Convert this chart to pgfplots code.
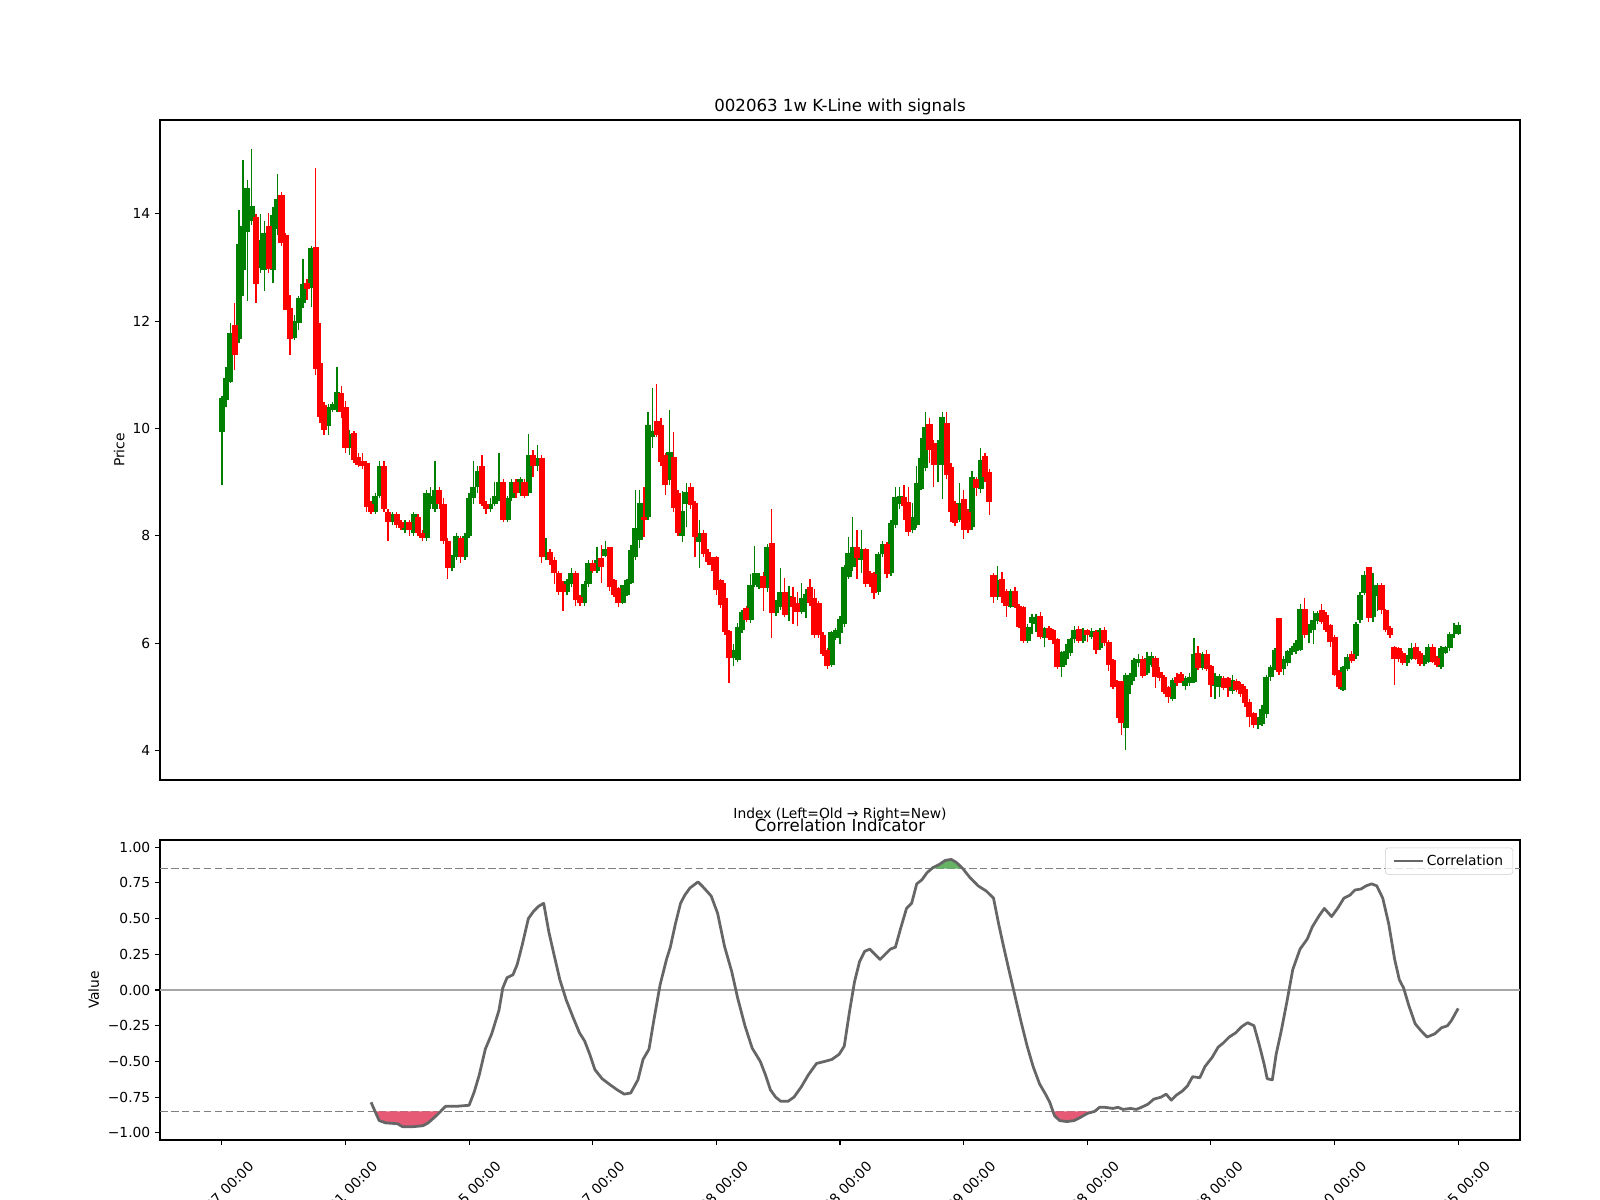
\documentclass[border=0pt]{standalone}
\usepackage{fontspec}
\setmainfont{DejaVu Sans}
\usepackage{pgfplots}
\usepackage{pgfplotstable}
\pgfplotsset{compat=1.18}

\definecolor{upc}{HTML}{008000}
\definecolor{dnc}{HTML}{FF0000}
\definecolor{corrc}{HTML}{666666}
\definecolor{negfill}{HTML}{E65A76}
\definecolor{posfill}{HTML}{66B366}

\pgfplotstableread{
i o h l c
0 9.94 10.60 8.95 10.57
1 10.53 11.15 10.40 10.94
2 10.87 11.97 10.85 11.78
4 11.67 14.08 11.60 13.43
5 12.96 15.00 12.47 13.78
6 13.67 14.64 12.38 14.49
7 13.86 15.20 13.80 14.14
9 13.00 13.99 12.90 13.52
10 12.96 13.87 12.57 13.65
12 12.96 14.12 12.72 13.97
13 13.71 14.75 13.60 14.27
17 11.69 12.12 11.65 12.00
18 11.97 12.47 11.84 12.44
19 12.33 13.15 12.25 12.70
21 12.62 13.40 12.27 13.37
25 10.05 10.45 9.88 10.40
26 10.35 10.50 10.30 10.45
27 10.35 11.15 10.30 10.68
30 9.64 9.97 9.51 9.90
36 8.45 8.80 8.40 8.75
37 8.75 9.40 8.70 9.30
40 8.25 8.45 8.20 8.40
43 8.10 8.30 8.05 8.25
45 8.05 8.45 8.00 8.40
48 7.95 8.85 7.90 8.80
49 8.60 8.90 8.50 8.75
50 8.50 9.40 8.45 8.85
54 7.40 7.65 7.35 7.60
55 7.60 8.05 7.55 8.00
57 7.60 8.05 7.55 8.00
58 8.00 8.80 7.95 8.70
59 8.70 9.40 8.60 8.90
60 8.90 9.30 8.80 9.20
63 8.50 8.70 8.45 8.60
64 8.60 9.00 8.55 8.75
65 8.70 9.55 8.65 9.00
67 8.30 8.75 8.25 8.70
68 8.70 9.05 8.65 9.00
70 8.80 9.10 8.75 9.05
72 8.80 9.90 8.75 9.50
74 9.30 9.70 9.20 9.45
76 7.60 7.95 7.55 7.70
81 6.95 7.20 6.90 7.15
82 7.10 7.40 7.05 7.30
85 6.75 7.15 6.70 7.10
86 7.10 7.55 7.05 7.50
88 7.35 7.80 7.30 7.55
90 7.62 7.91 7.60 7.75
94 6.74 7.09 6.72 7.08
95 6.90 7.20 6.88 7.17
96 7.12 7.83 7.10 7.73
97 7.60 8.85 7.55 8.14
98 7.92 8.85 7.77 8.61
100 8.35 10.30 8.30 10.07
101 9.85 10.76 9.64 9.95
105 9.04 10.35 8.95 9.56
108 8.00 8.83 7.88 8.46
109 8.60 8.98 8.16 8.82
112 7.88 8.30 7.40 8.05
120 5.72 5.98 5.57 5.87
121 5.68 6.37 5.65 6.30
122 6.24 6.62 6.18 6.58
124 6.43 7.28 6.37 7.08
125 7.08 7.81 7.05 7.30
126 7.05 7.30 7.00 7.25
128 7.02 7.85 6.95 7.79
130 6.56 6.80 6.50 6.70
131 6.67 7.40 6.62 6.95
133 6.67 7.07 6.41 6.87
136 6.58 7.12 6.55 6.84
137 6.76 7.00 6.47 6.91
143 5.60 6.22 5.55 6.20
144 6.10 6.28 6.05 6.24
145 6.18 6.50 5.98 6.44
146 6.35 7.45 6.30 7.41
147 7.23 7.98 7.20 7.68
148 7.42 8.35 7.35 7.79
150 7.55 8.10 7.30 7.75
154 6.95 7.70 6.90 7.66
155 7.66 7.90 7.60 7.85
157 7.30 8.30 7.25 8.24
158 8.20 8.90 8.15 8.72
159 8.60 8.90 8.50 8.75
162 8.10 8.61 8.05 8.35
163 8.20 9.30 8.15 8.98
164 8.88 9.82 8.85 9.45
165 9.26 10.31 9.20 10.03
168 9.32 9.78 9.00 9.73
169 9.32 10.31 8.69 10.22
173 8.29 8.98 8.25 8.61
176 8.16 9.20 8.10 9.10
178 8.87 9.64 8.80 9.41
182 6.86 7.44 6.80 7.17
185 6.68 7.00 6.65 6.98
189 6.04 6.35 6.00 6.30
190 6.37 6.55 6.17 6.48
191 6.35 6.55 6.20 6.40
193 6.10 6.30 5.93 6.29
197 5.56 5.85 5.37 5.83
198 5.70 5.98 5.60 5.85
199 5.81 6.10 5.75 6.07
200 6.07 6.31 6.00 6.24
202 6.04 6.29 6.00 6.24
204 6.12 6.29 6.08 6.22
206 5.90 6.29 5.88 6.24
212 4.42 5.45 4.01 5.41
213 5.21 5.45 5.05 5.40
214 5.37 5.73 5.30 5.69
215 5.62 5.80 5.55 5.70
217 5.44 5.83 5.40 5.73
218 5.60 5.83 5.55 5.75
223 4.95 5.35 4.92 5.32
226 5.20 5.38 5.12 5.35
227 5.25 5.45 5.20 5.37
228 5.28 6.10 5.25 5.79
230 5.54 5.83 5.50 5.79
233 5.20 5.45 4.95 5.30
234 5.18 5.43 5.00 5.38
237 5.10 5.40 5.05 5.32
243 4.47 4.62 4.40 4.58
244 4.49 4.85 4.45 4.78
245 4.67 5.40 4.60 5.37
246 5.37 5.60 5.30 5.56
247 5.56 5.90 5.50 5.88
249 5.52 5.75 5.40 5.71
250 5.63 5.88 5.58 5.85
251 5.83 5.95 5.78 5.90
252 5.85 6.05 5.80 6.00
253 5.88 6.72 5.85 6.63
255 6.19 6.35 6.00 6.33
256 6.24 6.60 5.98 6.43
257 6.41 6.60 6.35 6.56
263 5.12 5.58 5.10 5.56
264 5.52 5.80 5.48 5.74
266 5.75 6.40 5.70 6.35
267 6.43 6.95 6.38 6.89
268 6.94 7.35 6.90 7.27
270 6.49 7.30 6.40 7.02
271 6.87 7.12 6.60 7.09
278 5.63 5.78 5.58 5.75
279 5.71 6.00 5.68 5.90
282 5.61 5.78 5.58 5.75
283 5.65 5.98 5.62 5.92
286 5.56 5.95 5.52 5.90
287 5.82 5.95 5.80 5.92
288 5.90 6.20 5.85 6.16
289 6.17 6.38 6.10 6.17
290 6.17 6.40 6.15 6.33
}\uptable

\pgfplotstableread{
i o h l c
3 11.93 12.34 11.09 11.37
8 13.95 14.00 12.34 12.70
11 13.78 14.02 12.90 12.97
14 14.36 14.40 13.40 13.46
15 13.61 13.65 12.20 12.21
16 12.25 12.49 11.37 11.67
20 12.72 12.79 12.40 12.60
22 13.39 14.86 11.00 11.11
23 11.22 11.97 10.10 10.22
24 10.44 10.50 9.88 9.97
28 10.66 10.79 10.20 10.31
29 10.40 10.51 9.54 9.64
31 9.92 9.95 9.35 9.41
32 9.47 9.54 9.28 9.32
33 9.40 9.55 9.25 9.30
34 9.35 9.40 8.45 8.53
35 8.60 8.65 8.40 8.45
38 9.30 9.40 8.45 8.50
39 8.45 8.50 7.90 8.25
41 8.40 8.45 8.15 8.20
42 8.25 8.30 8.10 8.15
44 8.25 8.30 8.00 8.10
46 8.35 8.40 8.00 8.05
47 8.05 8.10 7.90 7.95
51 8.85 8.90 8.50 8.60
52 8.60 8.70 7.85 7.90
53 7.90 7.95 7.20 7.40
56 7.95 8.00 7.50 7.60
61 9.30 9.50 8.55 8.60
62 8.60 8.65 8.40 8.50
66 9.00 9.05 8.25 8.30
69 9.00 9.05 8.70 8.80
71 9.00 9.05 8.70 8.75
73 9.50 9.60 9.10 9.30
75 9.45 9.50 7.50 7.60
77 7.70 7.75 7.45 7.55
78 7.55 7.60 7.10 7.30
79 7.30 7.35 6.90 6.95
80 7.10 7.15 6.60 6.95
83 7.30 7.35 6.70 6.80
84 6.85 6.90 6.70 6.75
87 7.50 7.55 7.30 7.35
89 7.58 7.83 7.12 7.41
91 7.79 7.80 6.97 7.04
92 7.17 7.20 6.85 6.90
93 7.02 7.05 6.67 6.74
99 8.35 8.91 7.98 8.29
102 10.14 10.83 9.85 9.88
103 10.07 10.20 9.30 9.38
104 9.50 9.55 8.76 8.95
106 9.47 9.94 8.45 8.52
107 8.80 8.85 8.00 8.05
110 8.91 8.98 8.50 8.57
111 8.61 8.65 7.60 7.98
113 8.05 8.10 7.60 7.66
114 7.69 7.75 7.45 7.51
115 7.55 7.60 7.35 7.45
116 7.60 7.62 6.89 6.99
117 7.17 7.20 6.65 6.71
118 6.84 7.12 6.15 6.20
119 6.22 6.25 5.25 5.72
123 6.65 6.70 6.40 6.43
127 7.25 7.33 6.60 7.02
129 7.86 8.50 6.10 6.56
132 6.95 7.21 6.48 6.52
134 6.86 7.05 6.35 6.67
135 6.74 6.95 6.31 6.58
138 7.04 7.19 6.70 6.74
139 6.84 7.00 6.10 6.15
140 6.74 6.78 6.10 6.16
141 6.16 6.20 5.75 5.79
142 5.87 5.90 5.52 5.57
149 7.79 8.10 7.20 7.58
151 7.75 7.78 7.05 7.10
152 7.30 7.35 7.05 7.10
153 7.28 7.32 6.82 6.93
156 7.85 7.88 7.22 7.28
160 8.72 8.95 8.30 8.55
161 8.63 8.90 8.00 8.07
166 10.09 10.20 9.35 9.60
167 9.73 9.78 8.91 9.32
170 10.10 10.31 9.05 9.13
171 9.28 9.35 8.25 8.44
172 8.59 8.65 8.18 8.24
174 8.68 8.85 7.94 8.10
175 8.44 8.50 8.05 8.10
177 9.06 9.10 8.75 8.89
179 9.49 9.55 9.00 9.10
180 9.19 9.25 8.39 8.63
181 7.27 7.30 6.75 6.85
183 7.20 7.33 6.74 6.86
184 6.98 7.00 6.49 6.70
186 6.98 7.05 6.65 6.69
187 6.69 6.72 6.28 6.30
188 6.67 6.70 6.00 6.04
192 6.50 6.58 6.08 6.11
194 6.29 6.32 6.05 6.10
195 6.24 6.26 5.98 6.05
196 6.07 6.10 5.52 5.56
201 6.26 6.31 6.00 6.04
203 6.24 6.27 6.02 6.15
205 6.21 6.25 5.79 5.87
207 6.24 6.30 5.95 6.00
208 6.02 6.05 5.48 5.60
209 5.68 5.70 5.15 5.18
210 5.30 5.32 4.60 5.18
211 5.29 5.30 4.28 4.51
216 5.71 5.75 5.34 5.38
219 5.73 5.75 5.16 5.37
220 5.46 5.55 5.30 5.34
221 5.37 5.40 5.05 5.09
222 5.18 5.20 4.88 5.00
224 5.37 5.45 5.20 5.25
225 5.42 5.47 5.25 5.30
229 5.81 5.95 5.50 5.54
231 5.79 5.88 5.48 5.52
232 5.57 5.60 5.00 5.21
235 5.34 5.38 5.12 5.17
236 5.34 5.36 5.00 5.18
238 5.30 5.33 5.08 5.12
239 5.24 5.27 5.00 5.05
240 5.15 5.20 4.80 4.88
241 4.90 4.95 4.44 4.62
242 4.70 4.72 4.42 4.47
248 6.46 6.46 5.40 5.46
254 6.64 6.84 6.10 6.15
258 6.61 6.72 6.35 6.40
259 6.53 6.58 6.20 6.24
260 6.33 6.36 5.93 6.02
261 6.12 6.15 5.38 5.40
262 5.46 5.50 5.15 5.18
265 5.79 5.85 5.62 5.67
269 7.42 7.42 6.40 6.46
272 7.09 7.12 6.55 6.61
273 6.61 6.64 6.20 6.24
274 6.29 6.32 6.10 6.15
275 5.92 5.95 5.21 5.71
276 5.90 5.93 5.65 5.71
277 5.82 5.85 5.60 5.63
280 5.93 6.00 5.68 5.71
281 5.82 5.85 5.58 5.61
284 5.93 5.98 5.62 5.65
285 5.72 5.75 5.56 5.59
}\dntable

\pgfplotstableread{
i v
35 -0.786
36.9 -0.914
38.4 -0.93
41.2 -0.936
42.4 -0.957
44.8 -0.957
47.2 -0.95
48.4 -0.93
50.3 -0.88
52.5 -0.814
55.1 -0.814
58 -0.807
59.2 -0.714
60.4 -0.593
61.8 -0.414
63.3 -0.307
65 -0.143
65.9 0.014
66.9 0.086
68.3 0.107
69.3 0.18
70.5 0.32
71.9 0.5
73.1 0.55
74.3 0.586
75.5 0.607
76.7 0.407
77.9 0.25
79.3 0.071
80.8 -0.071
82.5 -0.2
83.9 -0.3
85.1 -0.357
86.3 -0.45
87.5 -0.557
89.2 -0.621
91.1 -0.664
92.8 -0.7
94.4 -0.729
95.9 -0.721
97.6 -0.629
98.8 -0.486
100.2 -0.414
101.4 -0.2
102.8 0.036
104.3 0.214
105.2 0.3
106.4 0.464
107.6 0.607
108.6 0.664
109.8 0.714
111.7 0.757
113.1 0.714
114.8 0.657
116.3 0.536
117.9 0.307
119.6 0.129
121 -0.057
122.7 -0.25
124.4 -0.407
126.3 -0.5
127.5 -0.593
128.7 -0.7
129.9 -0.75
131.1 -0.779
132.8 -0.779
134.2 -0.75
135.9 -0.679
137.6 -0.593
139.5 -0.514
141.4 -0.5
143.1 -0.486
144.8 -0.45
146 -0.393
147.2 -0.157
148.4 0.057
149.6 0.2
150.8 0.271
152 0.286
153.2 0.25
154.4 0.214
155.6 0.25
156.8 0.286
158 0.3
159.2 0.429
160.6 0.571
161.8 0.607
163 0.743
164.2 0.771
165.4 0.821
166.8 0.857
168.3 0.879
169.7 0.907
171.1 0.914
172.3 0.893
173.8 0.85
175.5 0.786
177.4 0.729
179.3 0.693
181 0.643
182.2 0.464
183.4 0.3
184.6 0.143
186 -0.036
187.4 -0.214
188.9 -0.393
190.3 -0.536
191.8 -0.657
193.2 -0.729
194.2 -0.786
195.3 -0.879
196.5 -0.914
198.2 -0.921
199.9 -0.914
201.3 -0.893
203 -0.864
204.7 -0.85
205.9 -0.821
207.1 -0.821
209 -0.829
210.2 -0.821
211.4 -0.836
213.1 -0.829
214.5 -0.836
215.7 -0.821
217.2 -0.8
218.6 -0.764
220.3 -0.75
221.5 -0.729
222.7 -0.771
223.9 -0.736
225.3 -0.707
226.5 -0.671
227.7 -0.607
229.4 -0.614
230.6 -0.536
232.3 -0.471
233.7 -0.4
234.9 -0.371
236.3 -0.329
237.8 -0.3
239.2 -0.257
240.6 -0.229
242.1 -0.25
243.3 -0.379
244.5 -0.521
245.2 -0.621
246.4 -0.629
247.3 -0.45
248.5 -0.286
249.8 -0.086
251.2 0.143
252.9 0.286
254.6 0.357
255.8 0.443
257.4 0.521
258.6 0.571
260.3 0.514
261.7 0.571
263.2 0.643
264.6 0.664
265.8 0.7
267.2 0.707
268.4 0.729
269.7 0.743
270.9 0.729
272.3 0.643
273.7 0.464
275.1 0.214
276.2 0.071
277.2 0.014
278.4 -0.107
279.9 -0.236
281.3 -0.286
282.7 -0.329
284.5 -0.307
286.1 -0.264
287.5 -0.25
288.4 -0.214
290 -0.129
}\corrtable

\begin{document}
\begin{tikzpicture}
\pgfplotsset{
  base/.style={
    scale only axis, width=13.6in,
    xmin=-14.5, xmax=304.5,
    axis line style={line width=0.8pt},
    tick align=outside, major tick length=3.5pt,
    tick style={line width=0.8pt, black},
    xtick pos=left, ytick pos=left,
    /pgf/number format/assume math mode=true,
    tick label style={font=\fontsize{10}{12}\selectfont},
    title style={font=\fontsize{12}{14}\selectfont, at={(0.5,1)}, anchor=base, yshift=0.3pt, inner sep=0pt},
    ylabel style={font=\fontsize{10}{12}\selectfont, anchor=center, inner sep=0pt},
    xlabel style={font=\fontsize{10}{12}\selectfont, inner sep=0pt},
  },
  wick/.style={draw=none, mark=none, forget plot,
    error bars/.cd, y dir=both, y explicit, error mark=none,
    error bar style={draw=#1, line width=1.0pt}},
  body/.style={draw=none, mark=none, forget plot,
    error bars/.cd, y dir=both, y explicit, error mark=none,
    error bar style={draw=#1, line width=4.4pt}},
}
% ---------------- top: candlesticks ----------------
\begin{axis}[base, at={(1.6in,4.2in)}, anchor=south west, height=6.6in,
  ymin=3.448, ymax=15.75, ytick={4,6,8,10,12,14}, xtick=\empty,
  title={002063 1w K-Line with signals},
  xlabel={Index (Left=Old → Right=New)},
  xlabel style={at={(axis description cs:0.5,0)}, anchor=center, yshift=-25pt},
  ylabel={Price},
  ylabel style={at={(axis description cs:-0.030,0.5)}},
]
\addplot[wick=upc] table[x=i, y expr={(\thisrow{h}+\thisrow{l})/2}, y error expr={(\thisrow{h}-\thisrow{l})/2}] {\uptable};
\addplot[wick=dnc] table[x=i, y expr={(\thisrow{h}+\thisrow{l})/2}, y error expr={(\thisrow{h}-\thisrow{l})/2}] {\dntable};
\addplot[body=upc] table[x=i, y expr={(\thisrow{o}+\thisrow{c})/2}, y error expr={abs(\thisrow{c}-\thisrow{o})/2}] {\uptable};
\addplot[body=dnc] table[x=i, y expr={(\thisrow{o}+\thisrow{c})/2}, y error expr={abs(\thisrow{c}-\thisrow{o})/2}] {\dntable};
\end{axis}
% ---------------- bottom: correlation ----------------
\begin{axis}[base, at={(1.6in,0.6in)}, anchor=south west, height=3.0in,
  ymin=-1.05, ymax=1.05,
  ytick={-1,-0.75,-0.5,-0.25,0,0.25,0.5,0.75,1},
  yticklabels={−1.00,−0.75,−0.50,−0.25,0.00,0.25,0.50,0.75,1.00},
  xtick={0,29,58,87,116,145,174,203,232,261,290},
  xticklabels={2019-09-27 00:00,2020-04-21 00:00,2020-11-15 00:00,2021-06-17 00:00,2022-01-08 00:00,2022-08-08 00:00,2023-03-09 00:00,2023-10-08 00:00,2024-05-08 00:00,2024-12-10 00:00,2025-07-05 00:00},
  xticklabel style={xshift=18.5pt, yshift=-11pt, rotate=45, anchor=north east, inner sep=0pt},
  title={Correlation Indicator},
  ylabel={Value},
  ylabel style={at={(axis description cs:-0.0487,0.5)}},
  legend style={at={(1,1)}, anchor=north east, xshift=-5pt, yshift=-5.5pt,
    draw=black!20, rounded corners=2pt, fill=white, fill opacity=0.8, text opacity=1,
    font=\fontsize{10}{12}\selectfont, inner xsep=5pt, inner ysep=3pt},
  legend cell align=left,
  legend image code/.code={\draw[#1] (0pt,0pt) -- (21pt,0pt);},
]
\addplot[forget plot, draw=gray!70, line width=1pt] coordinates {(-14.5,0) (304.5,0)};
\addplot[forget plot, draw=gray, line width=1.2pt, dash pattern=on 5.5pt off 2.4pt] coordinates {(-14.5,0.85) (304.5,0.85)};
\addplot[forget plot, draw=gray, line width=1.2pt, dash pattern=on 5.5pt off 2.4pt] coordinates {(-14.5,-0.85) (304.5,-0.85)};
\addplot[forget plot, fill=negfill, draw=none] coordinates {(35.95,-0.85) (36.9,-0.914) (38.4,-0.93) (41.2,-0.936) (42.4,-0.957) (44.8,-0.957) (47.2,-0.95) (48.4,-0.93) (50.3,-0.88) (51.3,-0.85)};
\addplot[forget plot, fill=posfill, draw=none] coordinates {(166.5,0.85) (166.8,0.857) (168.3,0.879) (169.7,0.907) (171.1,0.914) (172.3,0.893) (173.8,0.85)};
\addplot[forget plot, fill=negfill, draw=none] coordinates {(194.96,-0.85) (195.3,-0.879) (196.5,-0.914) (198.2,-0.921) (199.9,-0.914) (201.3,-0.893) (203,-0.864) (204.7,-0.85)};
\addplot[draw=corrc, line width=2pt, line join=round, mark=none] table[x=i, y=v] {\corrtable};
\addlegendentry{Correlation}
\end{axis}
\pgfresetboundingbox
\useasboundingbox (0,0) rectangle (16in,12in);
\end{tikzpicture}
\end{document}
